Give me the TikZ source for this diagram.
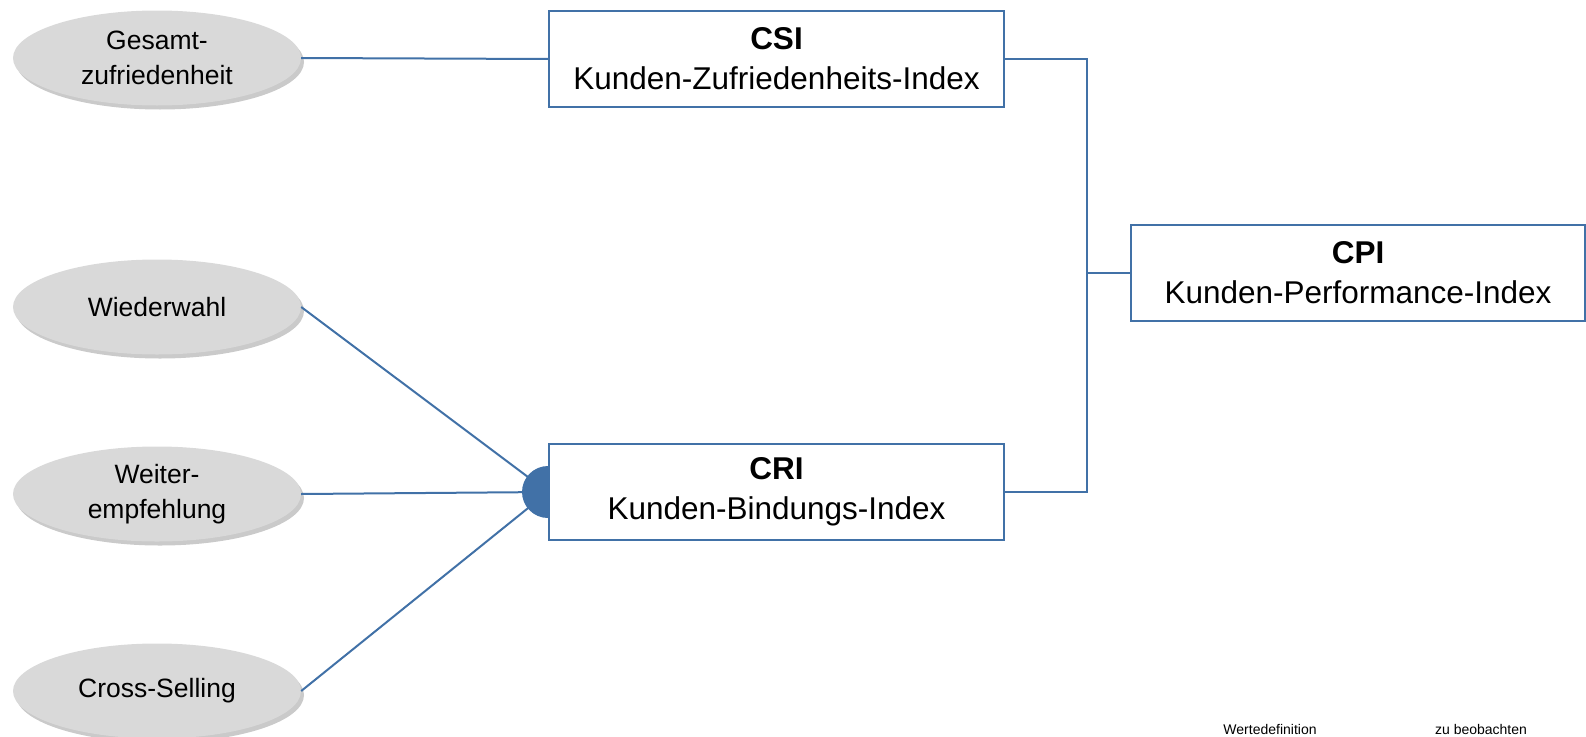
\documentclass[tikz,border=0pt]{standalone}
\usepackage{fontspec}
\setmainfont{Liberation Sans}
\usetikzlibrary{shadows,shapes.geometric}
\definecolor{lineblue}{RGB}{65,113,167}
\definecolor{ellgray}{RGB}{217,217,217}
\tikzset{
  ell/.style={ellipse, fill=ellgray, minimum width=288pt, minimum height=95pt,
    inner sep=0pt, align=center, font=\fontsize{26.5}{35}\selectfont,
    drop shadow={shadow xshift=3pt, shadow yshift=-4pt, opacity=0.35, fill=black!60}},
  idxbox/.style={draw=lineblue, line width=2pt, fill=white, minimum width=455pt,
    minimum height=96pt, inner sep=0pt, align=center, font=\fontsize{31.5}{40}\selectfont},
  conn/.style={draw=lineblue, line width=2pt},
  small/.style={font=\fontsize{14}{16}\selectfont, inner sep=0pt}
}
\begin{document}
\begin{tikzpicture}[x=1pt, y=-1pt]
\useasboundingbox (0,0) rectangle (1586,736);
\clip (0,0) rectangle (1586,736);
% ellipses
\node[ell] (g1) at (157,58) {Gesamt-\\zufriedenheit};
\node[ell] (g2) at (157,307) {Wiederwahl};
\node[ell] (g3) at (157,494) {Weiter-\\empfehlung};
\node[ell] (g4) at (157,691) {Cross-Selling};
% boxes
\node[idxbox] (csi) at (776.5,59) {\textbf{CSI}\\Kunden-Zufriedenheits-Index};
\node[idxbox] (cri) at (776.5,492) {\textbf{CRI}\\Kunden-Bindungs-Index};
\node[idxbox, minimum width=454pt] (cpi) at (1358,272.5) {\textbf{CPI}\\Kunden-Performance-Index};
% junction
\coordinate (dot) at (cri.west);
\coordinate (jx) at (1087,0);
\draw[conn] (g1.east) -- (csi.west);
\draw[conn] (g2.east) -- (dot);
\draw[conn] (g3.east) -- (dot);
\draw[conn] (g4.east) -- (dot);
\fill[lineblue] (dot) ++(0,26) arc[start angle=90, end angle=270, radius=26] -- cycle;
\node[idxbox] at (cri) {\textbf{CRI}\\Kunden-Bindungs-Index};
\draw[conn] (csi.east) -- (csi.east -| jx) -- (cri.east -| jx) -- (cri.east);
\draw[conn] (cpi.west -| jx) -- (cpi.west);
% legend text at the lower edge
\node[small, anchor=south] (w1) at (1270,735) {Wertedefinition};
\node[small, anchor=south] (w2) at (1481,735) {zu beobachten};
\end{tikzpicture}
\end{document}
